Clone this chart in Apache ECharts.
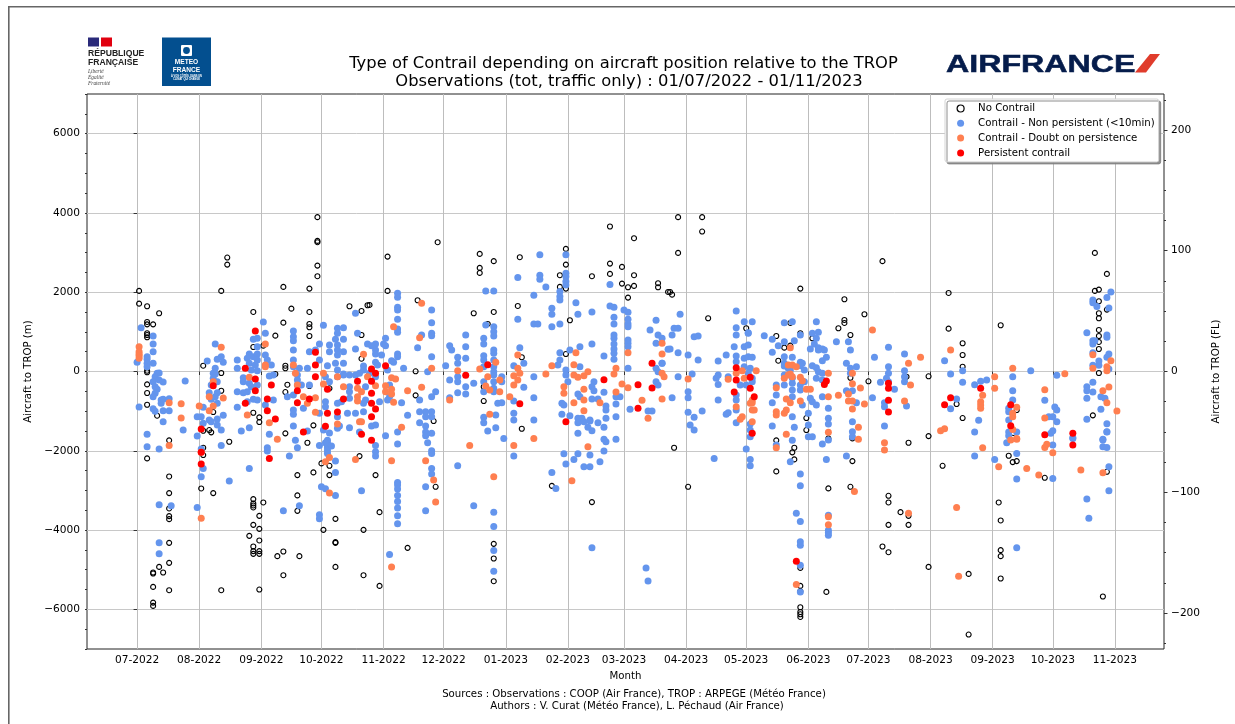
<!DOCTYPE html>
<html><head><meta charset="utf-8">
<style>html,body{margin:0;padding:0;background:#fff}#c{width:1235px;height:724px}</style>
<script src="https://cdn.jsdelivr.net/npm/echarts@6/dist/echarts.min.js"></script>
</head><body><div id="c"></div>
<script>
// x = days since 2022-07-01, y = metres relative to TROP
const monthLabels=['07-2022','08-2022','09-2022','10-2022','11-2022','12-2022','01-2023','02-2023','03-2023','04-2023','05-2023','06-2023','07-2023','08-2023','09-2023','10-2023','11-2023'];
const monthDays=[0,31,62,92,123,153,184,215,243,274,304,335,365,396,427,457,488];
const metreTicks=[-6000,-4000,-2000,0,2000,4000,6000];
const flTicks=[-200,-100,0,100,200];
const seriesNames=['No Contrail','Contrail - Non persistent (<10min)','Contrail - Doubt on persistence','Persistent contrail'];

const noContrail=[[1,2033],[1,1712],[5,1646],[11,1469],[5,1250],[5,1190],[8,1190],[5,965],[5,921],[5,863],[5,20],[5,-20],[5,-325],[5,-543],[5,-838],[10,-1115],[5,-2192],[16,-1737],[16,-2647],[16,-3068],[16,-3455],[16,-3649],[16,-3724],[16,-4322],[16,-4827],[16,-5517],[11,-4929],[8,-5070],[8,-5096],[13,-5070],[8,-5433],[8,-5829],[8,-5913],
[42,2033],[45,2874],[45,2697],[33,146],[42,-38],[42,-485],[38,-1023],[33,-1495],[36,-1477],[37,-1535],[46,-1772],[33,-1924],[33,-2108],[32,-2950],[38,-3068],[42,-5517],
[58,1502],[58,618],[63,652],[69,-63],[74,146],[74,81],[75,-333],[74,-518],[58,-1040],[61,-1156],[73,2134],[77,1586],[73,1232],[69,904],[61,-1275],[74,-1560],[85,-1798],[88,-1358],[80,-2613],[88,-2545],[80,-3126],[80,-3515],[58,-3219],[58,-3328],[58,-3379],[58,-3429],[63,-3303],[61,-3641],[58,-3868],[61,-3969],[56,-4146],[61,-4262],[58,-4414],[58,-4532],[58,-4600],[61,-4532],[61,-4600],[70,-4658],[73,-4540],[81,-4658],[73,-5138],[61,-5500],
[86,2091],[90,3893],[90,3295],[90,3262],[90,2671],[90,2404],[86,1502],[86,1199],[86,1116],[86,896],[86,-366],[96,-424],[92,-2318],[96,-2379],[96,-2613],[93,-3994],[99,-3717],[99,-4305],[99,-4322],[99,-4929],[111,-2134],[113,-3994],[113,-5138],
[106,1646],[112,1528],[115,1671],[112,921],[112,323],[119,-2613],[121,-3548],[121,-5408],[125,2899],[125,2033],[140,1798],[139,5],[139,-601],[150,3262],[116,1679],[135,-4449],[149,-2909],[148,-1250],
[171,2967],[171,2613],[171,2487],[178,2783],[168,1469],[178,1502],[175,1199],[192,359],[173,-745],[173,-384],[178,-4348],[178,-4717],[178,-5290],[192,-1444],[191,2883],[190,1654],
[214,3093],[214,2697],[211,2429],[211,2134],[214,2091],[216,1292],[214,442],[207,-2884],[227,-3295],[227,2404],[236,3657],[236,2722],[236,2462],[248,3363],[242,2639],[248,2429],[242,2217],[245,2126],[248,2159],[245,1864],[260,2227],[260,2126],[265,2007],[266,2007],[267,1939],[270,3893],[270,2992],[282,3893],[282,3530],[285,1343],[268,-1924],[275,-2909],
[304,1091],[319,896],[326,1225],[323,601],[326,652],[320,273],[331,2091],[331,965],[337,838],[353,1823],[353,1300],[353,1225],[350,1091],[356,921],[363,1444],[372,2783],[356,-157],[365,-247],[384,-131],[334,-1174],[319,-1737],[328,-1924],[327,-2040],[328,-2217],[319,-2520],[334,-1477],[345,-2949],[356,-2909],[357,-2260],[345,-1687],[357,-1687],[385,-1798],[375,-3136],[375,-3303],[381,-3548],[385,-3641],[385,-3868],[375,-3868],[372,-4414],[375,-4558],[344,-5560],[331,-4954],[331,-5408],[331,-5543],[331,-5947],[331,-6065],[331,-6123],[331,-6191],
[405,1982],[405,1081],[412,712],[412,417],[412,121],[395,-121],[409,-821],[412,-1174],[395,-1629],[431,1167],[439,-972],[437,-1672],[402,-2379],[435,-2126],[437,-2285],[439,-2260],[430,-3303],[431,-3757],[431,-4507],[431,-4658],[431,-5222],[415,-5105],[415,-6636],[395,-4929],[453,-2682],[484,-2530],[482,-5676],
[478,2992],[484,2462],[478,2033],[480,2066],[480,1772],[484,1561],[480,1469],[480,1343],[480,1048],[480,896],[480,745],[480,568],[480,-38],[477,-1106]];

const nonPersistent=[[2,1106],[8,896],[8,694],[8,500],[0,232],[5,374],[5,308],[5,207],[5,121],[8,207],[11,-38],[10,-46],[9,-131],[8,-258],[11,-215],[13,-265],[24,-240],[9,-384],[10,-449],[9,-550],[8,-636],[12,-720],[12,-803],[13,-702],[16,-687],[1,-896],[8,-939],[9,-1005],[13,-990],[16,-990],[13,-1268],[5,-1586],[23,-1477],[5,-1899],[11,-1957],[11,-3363],[17,-3389],[11,-4322],[11,-4600],
[39,694],[35,265],[42,374],[40,308],[43,232],[39,81],[38,-46],[39,-63],[38,-172],[37,-341],[40,-258],[36,-535],[40,-535],[39,-636],[37,-702],[40,-803],[33,-904],[32,-1141],[30,-1141],[43,-1106],[36,-1225],[40,-1200],[37,-1268],[40,-1351],[42,-1477],[33,-1308],[30,-1629],[42,-1864],[32,-1957],[33,-2444],[32,-2656],[30,-3429],[46,-2765],[52,-1502],[56,-1419],[56,-2444],
[63,1250],[64,965],[60,838],[58,813],[60,626],[56,442],[58,374],[60,442],[64,417],[55,333],[60,290],[65,290],[59,164],[56,207],[67,164],[50,290],[50,81],[57,38],[60,20],[66,-114],[68,-88],[53,-157],[53,-258],[56,-299],[57,-384],[60,-341],[50,-510],[53,-535],[55,-510],[58,-702],[55,-762],[60,-720],[50,-904],[64,-846],[68,-720],[75,-636],[78,-593],[78,290],[78,121],[78,543],[78,1023],[78,879],[78,778],[81,81],[85,81],[86,500],[89,543],[91,694],[93,1167],[80,-88],[80,-215],[80,-341],[82,-341],[86,-341],[78,-972],[78,-1081],[83,-929],[78,-1376],[85,-1502],[79,-1737],[80,-1924],[65,-1924],[65,-2007],[66,-1586],[76,-2134],[73,-3515],[81,-3389],[91,-1864],[91,-3616],[91,-3717],[92,-2909],[94,-2959],[99,-2260],[99,-2545],[99,-3126],[112,-3010],
[95,-1737],[95,-1800],[95,-1860],[95,-1924],[95,-2000],[95,-2066],[94,-1800],[97,-1880],[96,-1550],[93,-1477],[100,-1434],[101,-1376],[106,-1419],[111,-1528],[117,-1376],[119,-1351],[119,-1864],[119,-2025],[119,-2134],
[100,1091],[100,965],[100,669],[100,543],[100,417],[100,38],[103,1106],[103,813],[103,500],[103,207],[103,-88],[99,813],[99,207],[96,669],[96,500],[95,146],[91,290],[109,1469],[110,965],[109,568],[113,139],[113,38],[115,694],[119,694],[117,652],[119,543],[119,442],[119,232],[120,164],[116,-46],[119,-131],
[94,-131],[96,-258],[100,-131],[103,-63],[106,-88],[109,-88],[111,-46],[106,-384],[106,-510],[106,-677],[114,-384],[114,-720],[94,-762],[94,-889],[100,-803],[102,-762],[105,-1056],[109,-1056],[113,-803],[113,-1015],[91,-1056],[100,-1141],
[130,1975],[130,1873],[130,1621],[130,1553],[130,1318],[130,1073],[130,990],[130,442],[130,374],[124,838],[123,694],[124,652],[122,417],[127,273],[128,232],[125,38],[133,81],[126,-341],[126,-636],[125,-720],[121,-762],[132,-788],[141,-720],[135,-1106],[141,-1015],[144,-1015],[147,-1015],[147,-1141],[144,-1141],[147,1553],[147,1232],[147,965],[147,904],[147,374],[142,921],[140,601],[145,-5],[149,-510],[147,-636],[124,-1621],[130,-1528],[130,-1830],[130,-2798],[130,-2866],[130,-2967],[130,-3126],[130,-3277],[130,-3446],[130,-3641],[130,-3843],[126,-4616],[141,-1293],[144,-1376],[144,-1528],[144,-1621],[147,-1560],[145,-1798],[147,-2000],[147,-2066],[147,-2444],[147,-2588],[144,-2909],[144,-3515],
[164,921],[164,626],[164,333],[156,652],[157,543],[160,359],[160,207],[154,146],[160,-131],[160,-258],[156,-215],[164,-384],[168,-299],[164,-568],[160,-535],[156,-662],[173,838],[173,694],[173,399],[173,290],[178,543],[178,459],[178,1131],[178,1005],[178,896],[174,2033],[178,2033],[174,1174],[173,121],[178,290],[178,121],[178,-5],[178,-88],[178,-258],[178,-424],[178,-510],[173,-258],[173,-510],[182,-131],[182,-258],[180,-803],[182,-788],[173,-1156],[179,-1098],[173,-1293],[175,-1502],[179,-1419],[183,-1687],[188,-2134],[168,-3389],[160,-2379],[178,-3548],[178,-3909],[178,-4515],[178,-5037],
[201,2942],[201,2429],[201,2328],[190,2369],[204,2134],[198,1924],[207,1596],[207,1444],[190,1318],[198,1199],[200,1199],[207,1131],[211,1199],[191,601],[188,146],[193,207],[198,-131],[193,-399],[198,-662],[188,-745],[188,-1056],[188,-1225],[198,-1225],
[214,2942],[214,2480],[214,2395],[214,2268],[214,2184],[211,2015],[211,1889],[211,1805],[219,1737],[220,1444],[227,1502],[227,694],[221,626],[216,543],[211,475],[211,290],[210,164],[221,121],[214,38],[214,-88],[215,-258],[228,-258],[227,-384],[228,-485],[233,-525],[233,391],[220,-568],[221,-636],[227,-694],[230,-694],[212,-803],[213,-846],[234,-871],[234,-972],[239,-636],[241,-636],[239,-821],[246,-954],[255,-997],[257,-997],[212,-1081],[216,-1115],[220,-1182],[222,-1182],[226,-1225],[234,-1182],[239,-1141],
[236,2192],[236,1654],[238,1621],[238,1369],[238,1199],[238,921],[238,838],[238,694],[238,568],[238,459],[238,308],[243,1553],[245,1495],[245,1318],[245,1199],[245,1131],[245,795],[245,712],[245,626],[245,81],[256,1048],[259,1292],[260,921],[262,838],[259,712],[262,207],[259,81],[260,-5],[265,560],[259,-258],[260,-341],
[220,-1293],[223,-1268],[226,-1250],[220,-1560],[225,-1409],[227,-1495],[230,-1293],[233,-1409],[233,-1712],[234,-1772],[239,-1712],[213,-2075],[220,-2075],[226,-2108],[233,-2007],[218,-2217],[231,-2277],[214,-2336],[223,-2404],[226,-2404],[207,-2545],[209,-2949],[227,-4449],[254,-4954],[255,-5282],
[271,1444],[268,1091],[270,1091],[267,921],[278,879],[280,896],[266,568],[270,475],[275,417],[280,290],[262,207],[270,-131],[277,-63],[275,-510],[275,-662],[267,-662],[275,-1030],[282,-997],[278,-1156],[290,265],[294,417],[289,-172],[290,-88],[290,-325],[290,-720],[295,-131],[294,-1081],[295,-1040],
[299,1528],[299,1106],[299,921],[298,626],[299,391],[299,248],[299,-593],[299,-720],[299,-972],[303,1257],[307,1257],[305,965],[305,979],[303,626],[305,669],[303,333],[305,374],[307,359],[303,121],[306,81],[305,-46],[307,-172],[307,-258],[304,-341],[301,-341],
[313,904],[317,813],[320,652],[317,485],[323,753],[328,778],[331,921],[323,1232],[327,1257],[323,374],[327,359],[323,207],[331,232],[332,207],[337,146],[339,96],[344,359],[342,273],[339,1257],[340,990],[337,965],[339,838],[338,694],[340,601],[336,568],[342,568],[343,543],[340,543],
[319,-341],[323,-341],[327,-299],[331,-341],[340,-5],[339,-172],[342,-46],[342,-215],[319,-593],[317,-788],[327,-467],[327,-636],[331,-467],[336,-677],[337,-762],[339,-846],[342,-636],[345,-929],[345,-1182],[327,-1141],[332,-846],[335,-1056],[323,139],[325,81],[326,38],[331,146],[333,38],[323,-88],[327,-172],[333,-258],
[349,753],[355,753],[356,543],[354,207],[356,81],[359,121],[356,-46],[354,-485],[357,-485],[359,-788],[367,-662],[373,-788],[373,-889],[371,-274],[375,611],[368,359],[375,121],[375,-46],[374,-172],[375,-258],[378,-449],[383,442],[383,20],[383,-131],[383,-258],[384,-871],
[276,-1351],[278,-1477],[288,-2192],[304,-1957],[306,-2217],[306,-2379],[306,-1646],[306,-1477],[306,-1326],[299,-1293],[317,-1376],[319,-1856],[327,-1737],[328,-1409],[335,-1351],[335,-1646],[337,-1646],[342,-1830],[345,-1729],[345,-1326],[344,-2217],[354,-2134],[357,-1520],[357,-1646],[357,-1268],[373,-1376],[326,-2277],[331,-2588],[331,-2884],[329,-3573],[331,-3783],[331,-4297],[331,-4381],[331,-4886],[331,-5560],[345,-3623],[345,-4002],[345,-4070],[345,-4128],
[403,273],[406,-63],[412,20],[412,-274],[418,-333],[421,-247],[424,-215],[409,-694],[406,-939],[420,-1232],[418,-1528],[437,-131],[437,-485],[437,-720],[435,-929],[435,-1015],[435,-1225],[439,-1528],[435,-1528],[435,-1621],[446,20],[459,-96],[453,-727],[455,-1141],[457,-1141],[459,-1268],[458,-896],[459,-972],[457,-1495],[456,-1560],[467,-1672],[418,-2134],[428,-2217],[434,-1798],[439,-2066],[439,-2714],[439,-4449],[457,-2697],[457,-1856],[467,-1687],[474,-3219],[475,-3699],[482,-1729],[482,-1899],[484,-1914],[484,-1520],[485,-2404],[485,-3010],
[486,2007],[484,1864],[485,1603],[477,1805],[477,1737],[479,1637],[474,980],[477,778],[477,694],[478,778],[484,921],[484,863],[485,442],[484,359],[477,475],[480,265],[480,156],[477,156],[485,63],[477,-274],[474,-384],[474,-485],[474,-677],[477,-518],[481,-636],[483,-677],[481,-954],[474,-1207],[484,-1318],[484,-1528],[482,-1712]];

const doubtful=[[1,626],[1,500],[1,442],[1,400],[1,333],[16,-788],[22,-813],[31,-871],[22,-1174],[16,-1864],[42,611],[36,-636],[43,-669],[38,-258],[38,-871],[36,-990],[32,-3699],[32,-2040],
[64,694],[64,164],[64,121],[56,-147],[55,-1098],[66,-1293],[70,-1712],[78,164],[79,-46],[80,-341],[83,-636],[85,-803],[89,-662],[89,-1030],[93,-46],[93,-316],[100,-131],[103,-384],[110,-424],[110,-636],[110,-745],[112,-510],[113,434],[115,-131],[119,-358],[100,-1326],[96,-2167],[94,-2277],[96,-3068],[109,-2217],[111,-1268],[112,-1268],
[128,1131],[141,854],[142,1722],[147,81],[127,-157],[129,-190],[124,-358],[124,-510],[127,-449],[127,-568],[135,-485],[142,-399],[128,-778],[132,-1409],[127,-2252],[127,-4929],[144,-2252],[148,-2740],[149,-3295],
[160,20],[156,-720],[171,63],[166,-1864],[175,-131],[174,-366],[176,-467],[181,-215],[181,-510],[179,232],[176,-1081],
[190,417],[190,81],[188,-105],[191,-46],[190,-215],[188,-341],[186,-636],[204,-63],[207,146],[188,-1864],[198,-1687],[178,-2656],
[213,-384],[213,-550],[219,475],[218,172],[218,-88],[220,-147],[223,-105],[225,-5],[223,-449],[223,-720],[218,-788],[223,-990],[231,-788],[239,81],[238,-63],[242,-316],[245,-409],[239,-518],[245,475],[252,-727],[262,712],[262,442],[262,-46],[263,-131],[262,-694],[255,-1182],[225,-1899],[217,-2757],
[275,-190],[295,-197],[299,-46],[299,-889],[302,20],[303,-172],[309,20],[307,-720],[306,-803],[307,-788],[307,-972],[308,-972],[302,-1141],[301,-1207],[307,-1268],[324,-1586],[319,-1924],
[326,601],[325,164],[327,164],[329,121],[326,-63],[325,-88],[323,-172],[327,-131],[331,-147],[332,-232],[334,-449],[336,-449],[319,-409],[324,-694],[326,-788],[331,-745],[319,-1015],[319,-1098],[324,-972],[323,-1056],[345,-46],[357,-46],[357,-308],[361,-417],[355,-568],[350,-601],[345,-636],[355,-745],[357,-745],[363,-821],[357,-947],[383,-745],[386,-341],[391,359],[385,207],[367,1048],
[345,-1535],[360,-1409],[360,-1712],[373,-1798],[373,-1982],[358,-3025],[385,-3573],[345,-3666],[345,-3868],[329,-5373],
[406,543],[401,-1495],[403,-1444],[421,-762],[421,-846],[421,-929],[422,-601],[428,-131],[428,-424],[437,81],[439,-904],[437,-1056],[437,-1141],[437,-1460],[439,-1687],[453,-460],[453,-1174],[463,-55],[477,425],[477,81],[484,121],[484,20],[486,273],[485,-391],[482,-485],[484,-788],[489,-997],
[422,-1924],[430,-2404],[444,-2444],[450,-2613],[453,-1914],[454,-1838],[457,-2050],[471,-2487],[482,-2555],[409,-3429],[410,-5164],[436,-1729],[439,-1712]];

const persistent=[[59,1023],[54,81],[59,-190],[59,-485],[54,-803],[67,-341],[65,-694],[65,-990],[69,-1199],[38,-358],[32,-1452],[32,-2040],[32,-2336],[66,-2192],
[89,485],[89,164],[89,-131],[80,-485],[80,-788],[86,-694],[95,-449],[95,-1056],[100,-1023],[103,-694],[110,-247],[117,63],[119,-46],[117,-247],[117,-550],[117,-803],[119,-947],[117,-1141],[94,-1384],[83,-1528],[112,-1586],[117,-1737],[124,146],
[164,-96],[175,172],[191,-813],[214,-1268],[233,-207],[250,-333],[257,-417],[250,-929],[257,207],
[299,96],[299,-215],[298,-518],[306,-147],[306,-424],[308,-636],[307,-1560],[344,-240],[343,-325],[375,-299],[375,-424],[375,-727],[375,-1023],[329,-4785],
[421,-424],[406,-662],[403,-838],[436,-838],[436,-1369],[453,-1596],[467,-1560],[467,-1856]];

const metreMinorTicks=[];for(let v=-7000;v<=7000;v+=500)metreMinorTicks.push(v);
const flMinorTicks=[];for(let v=-225;v<=225;v+=25)flMinorTicks.push(v);

const minusFmt=v=>String(v).replace('-','\u2212');
const FONT='"DejaVu Sans"';
const chart=echarts.init(document.getElementById('c'));
const dot=(name,data,color,z)=>({type:'scatter',name,data,symbol:'circle',symbolSize:7,silent:true,z,xAxisIndex:0,yAxisIndex:0,
  itemStyle:{color,opacity:1},animation:false});
const ring={type:'scatter',name:seriesNames[0],data:noContrail,symbol:'circle',symbolSize:5,silent:true,z:2,
  itemStyle:{color:'rgba(255,255,255,0)',borderColor:'#000',borderWidth:1.1,opacity:1},animation:false};
const mkY=(o)=>Object.assign({type:'value',gridIndex:0,splitLine:{show:false},axisLine:{show:false}},o);
const titleStyle={fontFamily:FONT,fontSize:16.35,fontWeight:'normal',color:'#000'};
const footStyle={fontFamily:FONT,fontSize:10.2,fontWeight:'normal',color:'#000'};
chart.setOption({
  animation:false,backgroundColor:'#fff',
  textStyle:{fontFamily:FONT},
  title:[
    {text:'Type of Contrail depending on aircraft position relative to the TROP',left:623.5,top:56,padding:0,textAlign:'center',textStyle:titleStyle},
    {text:'Observations (tot, traffic only) : 01/07/2022 - 01/11/2023',left:629,top:74,padding:0,textAlign:'center',textStyle:titleStyle},
    {text:'Sources : Observations : COOP (Air France), TROP : ARPEGE (M\u00e9t\u00e9o France)',left:634,top:689.5,padding:0,textAlign:'center',textStyle:footStyle},
    {text:'Authors : V. Curat (M\u00e9t\u00e9o France), L. P\u00e9chaud (Air France)',left:637,top:701,padding:0,textAlign:'center',textStyle:footStyle}
  ],
  grid:{left:87,right:71,top:94,bottom:75,show:true,borderColor:'#222',borderWidth:1,backgroundColor:'#fff',containLabel:false},
  xAxis:{type:'value',min:-25,max:512.5,name:'Month',nameLocation:'middle',nameGap:20,
    nameTextStyle:{fontFamily:FONT,fontSize:10.2,color:'#000'},
    axisLine:{show:false},
    axisTick:{show:true,length:3.5,customValues:monthDays,lineStyle:{color:'#333'}},
    axisLabel:{customValues:monthDays,margin:6,fontFamily:FONT,fontSize:10.6,color:'#000',
      formatter:v=>monthLabels[monthDays.indexOf(v)]},
    splitLine:{show:true,lineStyle:{color:'#bdbdbd',width:1}}},
  yAxis:[
    mkY({position:'left',min:-7000,max:7000,name:'Aircraft to TROP (m)',nameLocation:'middle',nameGap:36,nameRotate:90,
      nameTextStyle:{fontFamily:FONT,fontSize:10.2,color:'#000'},
      axisTick:{show:true,length:3.5,customValues:metreTicks,lineStyle:{color:'#333'}},
      axisLabel:{customValues:metreTicks,margin:7,padding:[2,0,0,0],fontFamily:FONT,fontSize:10.6,color:'#000',formatter:minusFmt},
      splitLine:{show:true,lineStyle:{color:'#c8c8c8',width:1}}}),
    mkY({position:'left',min:-7000,max:7000,
      axisTick:{show:true,length:2,customValues:metreMinorTicks,lineStyle:{color:'#333'}},
      axisLabel:{show:false}}),
    mkY({position:'right',min:-229.8,max:229.8,name:'Aircraft to TROP (FL)',nameLocation:'middle',nameGap:28,nameRotate:90,
      nameTextStyle:{fontFamily:FONT,fontSize:10.2,color:'#000'},
      axisTick:{show:true,length:3.5,customValues:flTicks,lineStyle:{color:'#333'}},
      axisLabel:{customValues:flTicks,margin:7,padding:[2,0,0,0],fontFamily:FONT,fontSize:10.6,color:'#000',formatter:minusFmt}}),
    mkY({position:'right',min:-229.8,max:229.8,
      axisTick:{show:true,length:2,customValues:flMinorTicks,lineStyle:{color:'#333'}},
      axisLabel:{show:false}})
  ],
  legend:{show:true,orient:'vertical',left:945,top:99,selectedMode:false,
    padding:[4.5,4,4,11.5],itemGap:4.8,itemWidth:7,itemHeight:7,icon:'circle',
    backgroundColor:'#fff',borderColor:'#d4d4d4',borderWidth:1,borderRadius:2,
    shadowColor:'rgba(130,130,130,0.9)',shadowBlur:0,shadowOffsetX:2,shadowOffsetY:2,
    textStyle:{fontFamily:FONT,fontSize:10.2,color:'#000',padding:[0,0,0,9]},
    data:[
      {name:seriesNames[0],itemStyle:{color:'#fff',borderColor:'#000',borderWidth:1.2}},
      {name:seriesNames[1]},{name:seriesNames[2]},{name:seriesNames[3]}
    ],z:20},
  series:[ring,dot(seriesNames[1],nonPersistent,'#6495ed',3),dot(seriesNames[2],doubtful,'#ff7f50',4),dot(seriesNames[3],persistent,'#ff0000',5)],
  graphic:[
    {type:'rect',silent:true,shape:{x:8,y:6,width:1227,height:1.6},style:{fill:'#666'}},
    {type:'rect',silent:true,shape:{x:8,y:6,width:1.6,height:718},style:{fill:'#666'}},
    {type:'rect',silent:true,shape:{x:88,y:37.5,width:11,height:9},style:{fill:'#2a2a7a'}},
    {type:'rect',silent:true,shape:{x:101,y:37.5,width:11,height:9},style:{fill:'#e1000f'}},
    {type:'text',silent:true,style:{x:88,y:48.5,text:'R\u00c9PUBLIQUE\nFRAN\u00c7AISE',fontFamily:'"Liberation Sans"',fontWeight:'bold',fontSize:8.6,lineHeight:9.5,fill:'#222'}},
    {type:'text',silent:true,style:{x:88,y:68.5,text:'Libert\u00e9\n\u00c9galit\u00e9\nFraternit\u00e9',fontFamily:'"Liberation Serif"',fontStyle:'italic',fontSize:5.4,lineHeight:6,fill:'#444'}},
    {type:'rect',silent:true,shape:{x:162,y:37.5,width:49,height:48.5},style:{fill:'#034f8f'}},
    {type:'rect',silent:true,shape:{x:181,y:45,width:11,height:11,r:1},style:{fill:'#fff'}},
    {type:'circle',silent:true,shape:{cx:186.5,cy:50.5,r:3.4},style:{fill:'#034f8f'}},
    {type:'text',silent:true,style:{x:186.5,y:58.5,text:'METEO\nFRANCE',align:'center',fontFamily:'"Liberation Sans"',fontWeight:'bold',fontSize:6.6,lineHeight:7.6,fill:'#fff'}},
    {type:'text',silent:true,style:{x:186.5,y:75,text:'\u00c0 VOS C\u00d4T\u00c9S, DANS UN\nCLIMAT QUI CHANGE',align:'center',fontFamily:'"Liberation Sans"',fontWeight:'bold',fontSize:2.6,lineHeight:3,fill:'#fff'}},
    {type:'text',silent:true,x:946,y:54,scaleX:1.37,style:{x:0,y:0,text:'AIRFRANCE',fontFamily:'"Liberation Sans"',fontWeight:'bold',fontSize:23.5,fill:'#051c4b',stroke:'#051c4b',lineWidth:0.5}},
    {type:'polygon',silent:true,shape:{points:[[1135,72.6],[1146,72.6],[1160,54],[1150,54]]},style:{fill:'#e03c2c'}}
  ]
});
</script></body></html>
